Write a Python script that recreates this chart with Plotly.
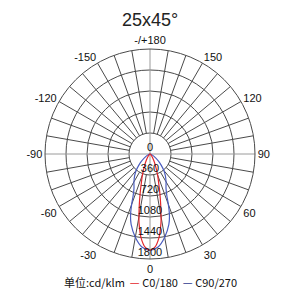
import numpy as np
import plotly.graph_objects as go

# ---- data ----
title_text = "25x45°"
unit_label = "单位:cd/klm"
series_names = ["C0/180", "C90/270"]

red_theta = [-90, -60, -50, -40, -30, -25, -20, -17, -14, -12, -10, -9, -6, -3, 0,
             3, 6, 9, 10, 12, 14, 17, 20, 25, 30, 40, 50, 60, 90]
red_r = [0, 0, 15, 50, 130, 220, 380, 500, 700, 880, 1090, 1200, 1450, 1600, 1650,
         1600, 1450, 1200, 1090, 880, 700, 500, 380, 220, 130, 50, 15, 0, 0]

blue_theta = [-90, -80, -70, -60, -50, -45, -40, -35, -30, -25, -22, -20, -17.5, -15, -10, -5, 0,
              5, 10, 15, 17.5, 20, 22, 25, 30, 35, 40, 45, 50, 60, 70, 80, 90]
blue_r = [0, 5, 25, 80, 190, 270, 370, 460, 550, 650, 770, 920, 1110, 1250, 1450, 1600, 1650,
          1600, 1450, 1250, 1110, 920, 770, 650, 550, 460, 370, 270, 190, 80, 25, 5, 0]

radial_ticks = [0, 360, 720, 1080, 1440, 1800]
angle_ticks = [0, 30, 60, 90, 120, 150, 180, 210, 240, 270, 300, 330]
angle_labels = ["0", "30", "60", "90", "120", "150", "-/+180", "-150", "-120", "-90", "-60", "-30"]

# ---- styles ----
RED = "#e3262c"
BLUE = "#4b5dbf"
GRID = "#4a4a4a"
CROSS = "#9a9a9a"
FONT = "Liberation Sans, Arial, sans-serif"

rmax = radial_ticks[-1]
rin = radial_ticks[1]

fig = go.Figure()

# spokes every 10 degrees from inner circle to outer circle
sp_t, sp_r = [], []
for a in range(0, 360, 10):
    if a % 90 == 0:
        continue
    sp_t += [a, a, None]
    sp_r += [rin, rmax, None]
fig.add_trace(go.Scatterpolar(theta=sp_t, r=sp_r, mode="lines",
                              line=dict(color=GRID, width=1), hoverinfo="skip", showlegend=False))
# central cross
cr_t, cr_r = [], []
for a in (0, 90, 180, 270):
    cr_t += [a, a, None]
    cr_r += [0, rmax, None]
fig.add_trace(go.Scatterpolar(theta=cr_t, r=cr_r, mode="lines",
                              line=dict(color=CROSS, width=1), hoverinfo="skip", showlegend=False))

fig.add_trace(go.Scatterpolar(theta=blue_theta, r=blue_r, mode="lines", name=series_names[1],
                              line=dict(color=BLUE, width=1.2, shape="spline"), showlegend=False))
fig.add_trace(go.Scatterpolar(theta=red_theta, r=red_r, mode="lines", name=series_names[0],
                              line=dict(color=RED, width=1.2, shape="spline"), showlegend=False))

# radial tick labels along the 0 direction
fig.add_trace(go.Scatterpolar(theta=[0] * len(radial_ticks), r=radial_ticks, mode="text",
                              text=[str(v) for v in radial_ticks], textposition="top center",
                              textfont=dict(size=11, color="#111", family=FONT),
                              hoverinfo="skip", showlegend=False))

fig.update_layout(
    width=300, height=300,
    margin=dict(l=45, r=45, t=49, b=41),
    paper_bgcolor="white",
    plot_bgcolor="white",
    showlegend=False,
    title=dict(text=title_text, x=0.5, xanchor="center", y=1 - 20 / 300, yanchor="middle",
               font=dict(size=18, color="#222", family=FONT)),
    polar=dict(
        bgcolor="white",
        domain=dict(x=[0, 1], y=[0, 1]),
        radialaxis=dict(range=[0, rmax], tickvals=radial_ticks[1:], showticklabels=False,
                        showline=False, ticks="", gridcolor=GRID, gridwidth=1, angle=-90),
        angularaxis=dict(rotation=-90, direction="counterclockwise", tickmode="array",
                         tickvals=angle_ticks, ticktext=angle_labels, showgrid=False,
                         showline=True, linecolor=GRID, linewidth=1, ticks="",
                         tickfont=dict(size=11, color="#111", family=FONT)),
    ),
)

legend_html = (f"{unit_label}  <span style='color:{RED}'>—</span> {series_names[0]}  "
               f"<span style='color:#2e3a8c'>—</span> {series_names[1]}")
fig.add_annotation(text=legend_html, xref="paper", yref="paper", x=0.5, y=-0.11,
                   xanchor="center", yanchor="middle", showarrow=False,
                   font=dict(size=11, color="#111", family="Noto Sans CJK SC, " + FONT))

fig.write_html("out.html")
